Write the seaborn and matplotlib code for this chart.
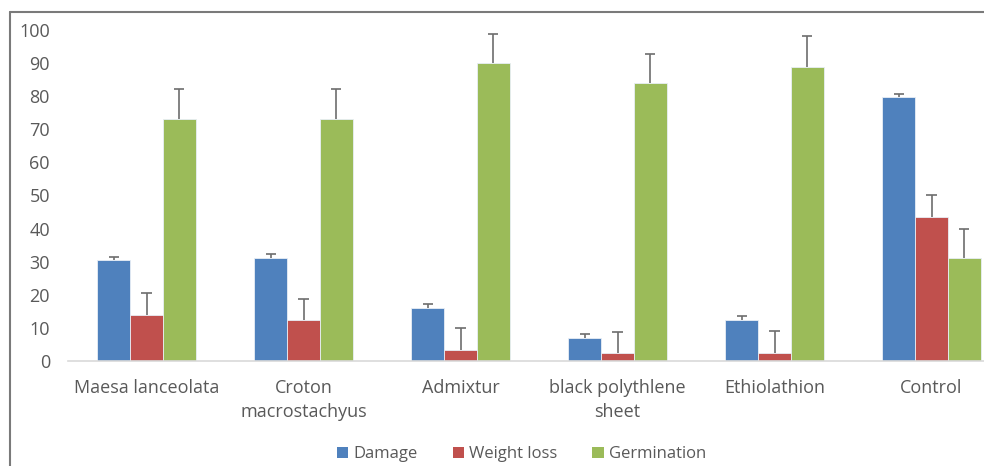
import matplotlib
matplotlib.use("Agg")
import matplotlib.pyplot as plt
from matplotlib.lines import Line2D
from matplotlib.patches import Patch
import seaborn as sns
import pandas as pd

categories = ["Maesa lanceolata", "Croton\nmacrostachyus", "Admixtur",
              "black polythlene\nsheet", "Ethiolathion", "Control"]
series = ["Damage", "Weight loss", "Germination"]
damage = [30.5, 31.1, 16.1, 6.9, 12.4, 79.9]
weight_loss = [14.0, 12.4, 3.3, 2.4, 2.4, 43.4]
germination = [73.0, 73.0, 89.9, 83.9, 88.9, 31.1]
damage_err = [0.8, 1.1, 1.2, 1.2, 1.2, 0.8]
weight_loss_err = [6.4, 6.4, 6.6, 6.5, 6.8, 6.7]
germination_err = [9.3, 9.3, 9.0, 9.0, 9.4, 8.9]
colors = ["#4F81BD", "#C0504D", "#9BBB59"]
yticks = [0, 10, 20, 30, 40, 50, 60, 70, 80, 90, 100]

values = [damage, weight_loss, germination]
errors = [damage_err, weight_loss_err, germination_err]
rows = []
for s, vals in zip(series, values):
    for c, v in zip(categories, vals):
        rows.append({"cat": c, "series": s, "val": v})
df = pd.DataFrame(rows)

sns.set_style("white")
plt.rcParams["font.family"] = ["Open Sans", "DejaVu Sans"]

fig = plt.figure(figsize=(9.84, 4.66), dpi=100)
ax = fig.add_axes([68 / 984, 105 / 466, 942 / 984, 331 / 466])

sns.barplot(data=df, x="cat", y="val", hue="series", palette=colors,
            order=categories, hue_order=series, errorbar=None,
            width=0.625, ax=ax, edgecolor="#e8eef6", linewidth=0.6,
            saturation=1, legend=False)

cap_half = 0.032
for cont, errs in zip(ax.containers, errors):
    for bar, e in zip(cont, errs):
        xc = bar.get_x() + bar.get_width() / 2
        h = bar.get_height()
        ax.vlines(xc, h, h + e, colors="#6d6d6d", linewidth=1.2, zorder=3)
        ax.hlines(h + e, xc - cap_half, xc + cap_half, colors="#6d6d6d",
                  linewidth=1.2, zorder=3)

ax.set_xlim(-0.5, 5.5)
ax.set_ylim(0, 100)
ax.set_yticks(yticks)
ax.set_xlabel("")
ax.set_ylabel("")
for sp in ["top", "right", "left"]:
    ax.spines[sp].set_visible(False)
ax.spines["bottom"].set_color("#d9d9d9")
ax.spines["bottom"].set_linewidth(1.2)
ax.tick_params(axis="both", length=0, colors="#595959", labelsize=13)
ax.tick_params(axis="y", pad=13)
ax.tick_params(axis="x", pad=13)
for lab in ax.get_xticklabels():
    lab.set_linespacing(1.4)

handles = [Patch(facecolor=c, edgecolor="none") for c in colors]
leg = fig.legend(handles, series, loc="center", bbox_to_anchor=(0.53, 0.025),
                 ncol=3, frameon=False, fontsize=12, handlelength=0.7,
                 handleheight=0.7, handletextpad=0.3, columnspacing=2.1)
for t in leg.get_texts():
    t.set_color("#595959")

fig.add_artist(Line2D([10 / 984, 1.0], [1 - 12 / 466, 1 - 12 / 466],
                      transform=fig.transFigure, color="#7a7a7a", lw=1.5))
fig.add_artist(Line2D([10 / 984, 10 / 984], [0, 1 - 12 / 466],
                      transform=fig.transFigure, color="#7a7a7a", lw=1.5))

fig.savefig("out.png", dpi=100)
